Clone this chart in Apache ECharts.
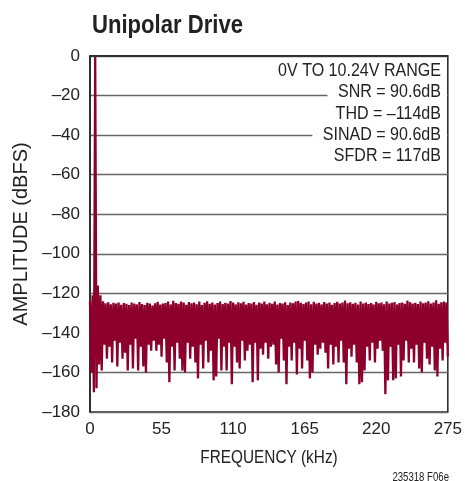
<!DOCTYPE html>
<html>
<head>
<meta charset="utf-8">
<script src="https://cdn.jsdelivr.net/npm/echarts@6/dist/echarts.min.js"></script>
<style>
  html, body { margin: 0; padding: 0; background: #fff; }
  #chart { width: 465px; height: 481px; }
</style>
</head>
<body>
<div id="chart"></div>
<script>
// FFT bins: upper edge at even kHz, lower edge at odd kHz
const highs = [
  -124, -121, -0.5, -116, -121, -124, -125, -124.5, -125.5, -124.8,
  -125.2, -124.6, -125.8, -124.9, -125.3, -125.9, -124.7, -125.1, -125.6, -124.4,
  -125.4, -125.9, -124.8, -125.2, -126.2, -125.0, -124.3, -125.7, -125.1, -124.9,
  -124.2, -125.6, -123.8, -124.9, -125.3, -124.1, -124.6, -125.8, -124.4, -125.0,
  -124.7, -125.5, -124.2, -125.9, -124.8, -124.0, -125.3, -124.6, -125.7, -124.9,
  -124.1, -125.4, -124.8, -125.2, -123.9, -124.7, -125.6, -124.5, -125.0, -124.3,
  -125.6, -124.9, -125.2, -124.4, -125.8, -124.6, -125.1, -124.2, -125.5, -124.8,
  -125.3, -124.1, -125.7, -124.9, -125.2, -124.5, -125.9, -124.7, -125.0, -124.2,
  -123.9, -124.8, -125.4, -124.6, -124.1, -125.5, -124.3, -125.2, -124.8, -125.6,
  -124.4, -125.1, -124.7, -125.8, -124.9, -124.3, -125.2, -124.6, -123.6, -125.0,
  -124.5, -125.3, -124.8, -125.7, -124.2, -125.1, -124.6, -125.4, -124.9, -125.6,
  -124.3, -125.0, -124.7, -125.5, -124.1, -125.2, -124.8, -124.4, -125.6, -124.9,
  -124.6, -125.3, -123.7, -124.5, -125.1, -124.8, -125.4, -124.2, -125.0, -124.7,
  -124.0, -125.2, -124.6, -123.5, -125.3, -124.5, -124.1, -124.6
];
const lows = [
  -160, -170, -168, -156, -159, -146, -153, -147, -155, -144,
  -157, -145, -153, -150, -159, -146, -158, -143, -159, -147,
  -157, -160, -146, -149, -144, -149, -146, -152, -143, -155,
  -165, -147, -159, -145, -153,
  -159, -160, -145, -153, -147, -155, -163, -146, -158, -144,
  -155, -149, -164, -162, -143, -159, -147, -159, -145, -166,
  -147, -155, -158, -144, -154, -149, -146, -165, -145, -164,
  -148, -151, -145, -153, -147,
  -146, -156, -160, -143, -154, -166, -147, -154, -145, -161,
  -148, -158, -144, -154, -163, -160, -146, -151, -148, -145,
  -150, -158, -146, -156, -147, -155, -144, -155, -166, -148,
  -152, -146, -155, -166,
  -165, -159, -147, -154, -145, -155, -148, -144, -149, -171,
  -164, -147, -164, -163, -146, -162, -154, -144, -155, -148,
  -155, -146, -158, -160, -145, -153, -156, -147, -159, -162,
  -148, -154, -145, -152
];
const xTicks = [0, 55, 110, 165, 220, 275];
const notes = ['0V TO 10.24V RANGE', 'SNR = 90.6dB', 'THD = \u2013114dB', 'SINAD = 90.6dB', 'SFDR = 117dB'];

const spectrum = [];
highs.forEach((h, i) => {
  spectrum.push([2 * i, h]);
  spectrum.push([2 * i + 1, lows[i]]);
});

const sans = '"Liberation Sans", Arial, sans-serif';

const chart = echarts.init(document.getElementById('chart'));
chart.setOption({
  animation: false,
  grid: {
    left: 90, right: 17, top: 56, bottom: 69,
    show: true, borderColor: '#222', borderWidth: 1.5
  },
  xAxis: {
    type: 'value',
    min: xTicks[0], max: xTicks[xTicks.length - 1], interval: 55,
    axisLine: { lineStyle: { color: '#222', width: 1.5 } },
    axisTick: { show: false },
    splitLine: { show: false },
    axisLabel: { fontFamily: sans, fontSize: 17, color: '#222', margin: 9 }
  },
  yAxis: {
    type: 'value',
    min: -180, max: 0, interval: 20,
    name: 'AMPLITUDE (dBFS)',
    nameLocation: 'middle', nameGap: 55,
    nameTextStyle: { fontFamily: sans, fontSize: 20, color: '#222' },
    axisLine: { show: true, lineStyle: { color: '#222', width: 1.5 } },
    axisTick: { show: false },
    splitLine: { lineStyle: { color: '#666', width: 1.3 } },
    axisLabel: {
      fontFamily: sans, fontSize: 17, color: '#222', margin: 10,
      formatter: v => (v < 0 ? '\u2013' + (-v) : String(v))
    }
  },
  series: [{
    type: 'line',
    data: spectrum,
    showSymbol: false,
    lineStyle: { color: '#8c002b', width: 2.3 },
    z: 3
  }],
  graphic: [
    {
      type: 'text', x: 92, y: 26, scaleX: 0.85,
      style: { text: 'Unipolar Drive', font: 'bold 26px ' + sans, fill: '#222', verticalAlign: 'middle' }
    },
    ...notes.map((t, i) => ({
      type: 'text', x: 447, y: 71 + i * 21.3, z: 10, scaleX: 0.867,
      style: {
        text: t, font: '18.5px ' + sans, fill: '#222',
        align: 'right', verticalAlign: 'middle',
        backgroundColor: '#fff', padding: [1, 7, 1, 12]
      }
    })),
    {
      type: 'text', x: 269, y: 458, scaleX: 0.83,
      style: {
        text: 'FREQUENCY (kHz)', font: '18.5px ' + sans, fill: '#222',
        align: 'center', verticalAlign: 'middle'
      }
    },
    {
      type: 'text', x: 449, y: 478, scaleX: 0.8,
      style: {
        text: '235318 F06e', font: '12px ' + sans, fill: '#222',
        align: 'right', verticalAlign: 'middle'
      }
    }
  ]
});
</script>
</body>
</html>
